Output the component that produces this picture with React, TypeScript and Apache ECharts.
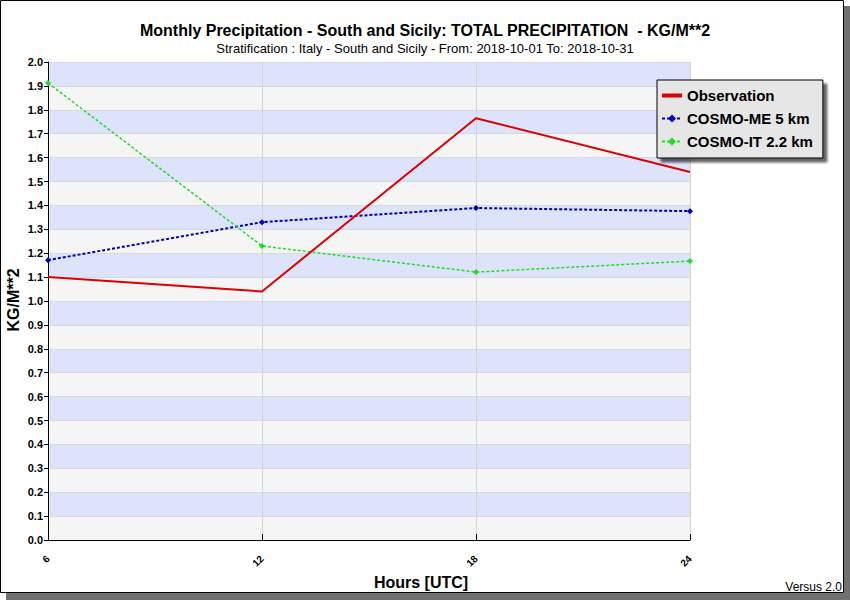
import React, { useEffect, useRef } from "react";
import * as echarts from "echarts";

const hours = [6, 12, 18, 24];
const observation = [1.1, 1.04, 1.765, 1.54];
const cosmoMe = [1.171, 1.33, 1.389, 1.376];
const cosmoIt = [1.912, 1.23, 1.121, 1.167];
const seriesNames = ["Observation", "COSMO-ME 5 km", "COSMO-IT 2.2 km"];

const SANS = "'Liberation Sans', Arial, sans-serif";

export default function App() {
  const ref = useRef<HTMLDivElement>(null);
  useEffect(() => {
    document.body.style.margin = "0";
    const chart = echarts.init(ref.current!, null, { renderer: "svg" });
    const pairs = (vals: number[]) => hours.map((h, i) => [h, vals[i]]);
    chart.setOption({
      animation: false,
      backgroundColor: "#ffffff",
      title: {
        text: "Monthly Precipitation - South and Sicily: TOTAL PRECIPITATION  - KG/M**2",
        subtext: "Stratification : Italy - South and Sicily - From: 2018-10-01 To: 2018-10-31",
        left: "center",
        top: 17,
        itemGap: 4,
        textStyle: { fontFamily: SANS, fontSize: 16, fontWeight: "bold", color: "#000" },
        subtextStyle: { fontFamily: SANS, fontSize: 13, color: "#000" },
      },
      legend: {
        orient: "vertical",
        left: 657,
        top: 80,
        width: 172,
        padding: [8, 10, 9, 4],
        itemGap: 8,
        itemWidth: 20,
        itemHeight: 10,
        backgroundColor: "#e6e6e6",
        borderColor: "#000",
        borderWidth: 1,
        shadowColor: "rgba(0,0,0,0.6)",
        shadowOffsetX: 4,
        shadowOffsetY: 4,
        shadowBlur: 2,
        data: [
          { name: seriesNames[0], icon: "path://M0,4H10V6H0Z", itemStyle: { color: "#dd0000" } },
          { name: seriesNames[1] },
          { name: seriesNames[2] },
        ],
        textStyle: { fontFamily: SANS, fontSize: 15, fontWeight: "bold", color: "#000" },
      },
      grid: { left: 48, right: 160, top: 62, bottom: 60, containLabel: false, outerBoundsMode: "none" },
      xAxis: {
        type: "value",
        min: 6,
        max: 24,
        interval: 6,
        axisLine: { show: true, lineStyle: { color: "#000", width: 1 } },
        axisTick: { show: true, inside: true, length: 6, lineStyle: { color: "#000" } },
        axisLabel: { rotate: 45, fontFamily: SANS, fontSize: 10, fontWeight: "bold", color: "#000", margin: 17 },
        splitLine: { show: true, lineStyle: { color: "#d4d4d4", width: 1 } },
      },
      yAxis: {
        type: "value",
        min: 0,
        max: 2,
        interval: 0.1,
        axisLine: { show: true, lineStyle: { color: "#000", width: 1 } },
        axisTick: { show: true, inside: false, length: 4, lineStyle: { color: "#000" } },
        axisLabel: {
          fontFamily: SANS,
          fontSize: 11,
          fontWeight: "bold",
          color: "#000",
          margin: 5,
          formatter: (v: number) => v.toFixed(1),
        },
        splitLine: { show: true, lineStyle: { color: "#d8d8e0", width: 1 } },
        splitArea: { show: true, areaStyle: { color: ["#f5f5f5", "#dce3fb"] } },
      },
      graphic: [
        { type: "rect", shape: { x: 844, y: 6, width: 6, height: 594 }, style: { fill: "#707070" }, silent: true },
        { type: "rect", shape: { x: 6, y: 593, width: 844, height: 7 }, style: { fill: "#707070" }, silent: true },
        { type: "rect", shape: { x: 0.5, y: 0.5, width: 843, height: 592 }, style: { fill: "none", stroke: "#000", lineWidth: 1 }, silent: true },
        {
          type: "text",
          x: 421,
          y: 582,
          style: {
            text: "Hours [UTC]",
            fontFamily: SANS,
            fontSize: 16,
            fontWeight: "bold",
            fill: "#000",
            align: "center",
            verticalAlign: "middle",
          },
        },
        {
          type: "text",
          x: 13,
          y: 300,
          rotation: Math.PI / 2,
          style: {
            text: "KG/M**2",
            fontFamily: SANS,
            fontSize: 16,
            fontWeight: "bold",
            fill: "#000",
            align: "center",
            verticalAlign: "middle",
          },
        },
        {
          type: "text",
          right: 8,
          bottom: 7,
          style: { text: "Versus 2.0", fontFamily: SANS, fontSize: 12, fill: "#000" },
        },
      ],
      series: [
        {
          name: seriesNames[0],
          type: "line",
          data: pairs(observation),
          symbol: "none",
          lineStyle: { color: "#dd0000", width: 2 },
          itemStyle: { color: "#dd0000" },
          z: 4,
        },
        {
          name: seriesNames[1],
          type: "line",
          data: pairs(cosmoMe),
          symbol: "diamond",
          symbolSize: 6,
          lineStyle: { color: "#0000aa", width: 2, type: [3, 2] },
          itemStyle: { color: "#0000cc" },
          z: 3,
        },
        {
          name: seriesNames[2],
          type: "line",
          data: pairs(cosmoIt),
          symbol: "diamond",
          symbolSize: 6,
          lineStyle: { color: "#22dd22", width: 1.5, type: [3, 2] },
          itemStyle: { color: "#22dd22" },
          z: 3,
        },
      ],
    });
    return () => chart.dispose();
  }, []);
  return <div ref={ref} style={{ width: 850, height: 600 }} />;
}
